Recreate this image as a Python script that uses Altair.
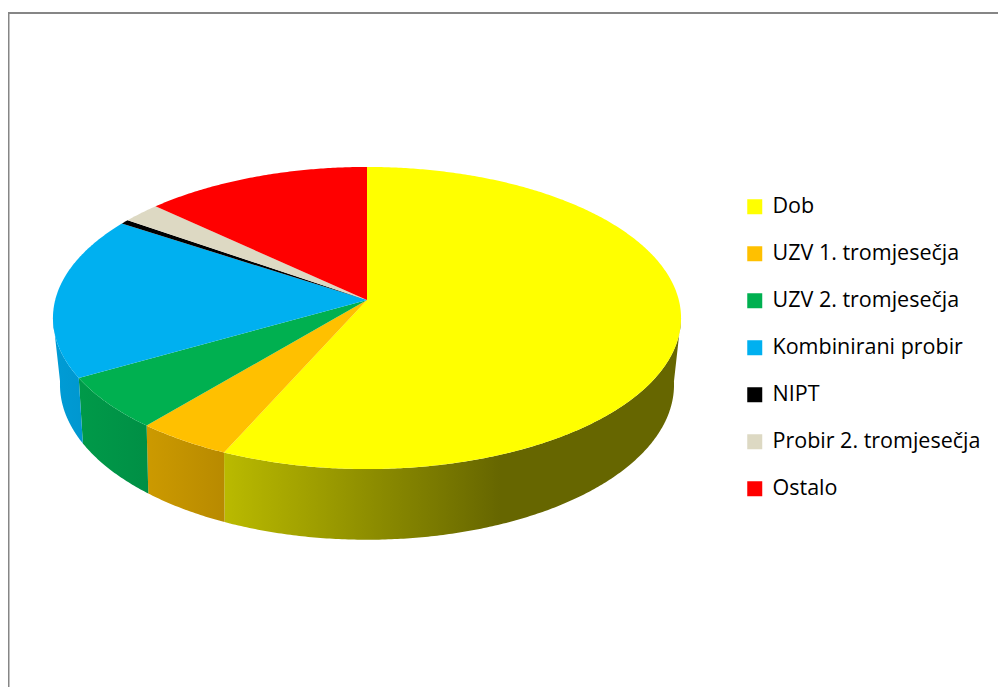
import math
import altair as alt

names = ["Dob", "UZV 1. tromjesečja", "UZV 2. tromjesečja", "Kombinirani probir", "NIPT", "Probir 2. tromjesečja", "Ostalo"]
values = [56.7, 4.4, 5.7, 17.4, 0.5, 2.2, 13.1]
colors = ["#FFFF00", "#FFC000", "#00B050", "#00B0F0", "#000000", "#DDD9C3", "#FF0000"]
wall_stops = {
    "Dob": [(0, "#BABA00"), (0.605, "#666600"), (1, "#666600")],
    "UZV 1. tromjesečja": [(0, "#CC9A00"), (1, "#B88A00")],
    "UZV 2. tromjesečja": [(0, "#009A49"), (1, "#008F45")],
    "Kombinirani probir": [(0, "#009CD6"), (1, "#0097CF")],
}

CX, CY = 359.0, 292.0          # apex of the slices, in plot pixels
TOP = dict(k=311.8, c=148.9, p=0.1192, y0=CY)
BOT = dict(k=304.0, c=152.0, p=0.14, y0=355.0)


def rim(deg, g):
    t = math.radians(deg)
    u, v = math.sin(t), -math.cos(t)
    d = 1 - g["p"] * v
    return [CX + g["k"] * u / d, g["y0"] + g["c"] * v / d]


def arc_degrees(a, b):
    n = max(2, int((b - a) * 2))
    return [a + (b - a) * i / n for i in range(n + 1)]


def polygon(ring, name):
    return {"type": "Feature", "properties": {"name": name},
            "geometry": {"type": "Polygon", "coordinates": [ring + [ring[0]]]}}


def geo(features):
    return alt.InlineData(values={"type": "FeatureCollection", "features": features},
                          format=alt.DataFormat(property="features", type="json"))


limits = []
acc = 0.0
for v in values:
    limits.append((acc * 3.6, (acc + v) * 3.6))
    acc += v

vis_a = math.degrees(math.acos(-TOP["p"]))
vis_b = 360 - vis_a
proj = dict(type="identity", scale=1, translate=[0, 0])

layers = []
for name, (a, b) in zip(names, limits):
    if name not in wall_stops:
        continue
    a2, b2 = max(a, vis_a), min(b, vis_b)
    degs = arc_degrees(a2, b2)
    ring = [rim(d, TOP) for d in degs] + [rim(d, BOT) for d in reversed(degs)]
    grad = alt.Gradient(gradient="linear", x1=0, x2=1, y1=0, y2=0,
                        stops=[alt.GradientStop(offset=o, color=c) for o, c in wall_stops[name]])
    layers.append(alt.Chart(geo([polygon(ring, name)])).mark_geoshape(fill=grad, strokeWidth=0).project(**proj))

top_features = []
for name, (a, b) in zip(names, limits):
    top_features.append(polygon([[CX, CY]] + [rim(d, TOP) for d in arc_degrees(a, b)], name))

pie = alt.Chart(geo(top_features)).mark_geoshape(strokeWidth=0).encode(
    fill=alt.Fill("properties.name:N",
                  scale=alt.Scale(domain=names, range=colors),
                  sort=names,
                  legend=alt.Legend(title=None, orient="none", legendX=736, legendY=188,
                                    symbolType="square", symbolSize=225, symbolStrokeWidth=0, symbolOpacity=1,
                                    labelFont="Open Sans", labelFontSize=21.5, labelColor="#000000", labelLimit=300,
                                    labelOffset=7, rowPadding=24, padding=0))
).project(**proj)
layers.append(pie)

frame_top = alt.Chart(alt.Data(values=[{"a": 0}])).mark_rule(color="#868686", strokeWidth=2).encode(
    x=alt.value(0), x2=alt.value(990), y=alt.value(5))
frame_left = alt.Chart(alt.Data(values=[{"a": 0}])).mark_rule(color="#868686", strokeWidth=2).encode(
    x=alt.value(0.5), y=alt.value(4), y2=alt.value(679))
layers += [frame_top, frame_left]

chart = alt.layer(*layers).resolve_scale(fill="independent").properties(
    width=990, height=679, padding=0, autosize=alt.AutoSizeParams(type="none"),
    background="#FFFFFF",
).configure_view(stroke=None)

chart.save("out.html", embed_options={"renderer": "svg", "actions": False})
